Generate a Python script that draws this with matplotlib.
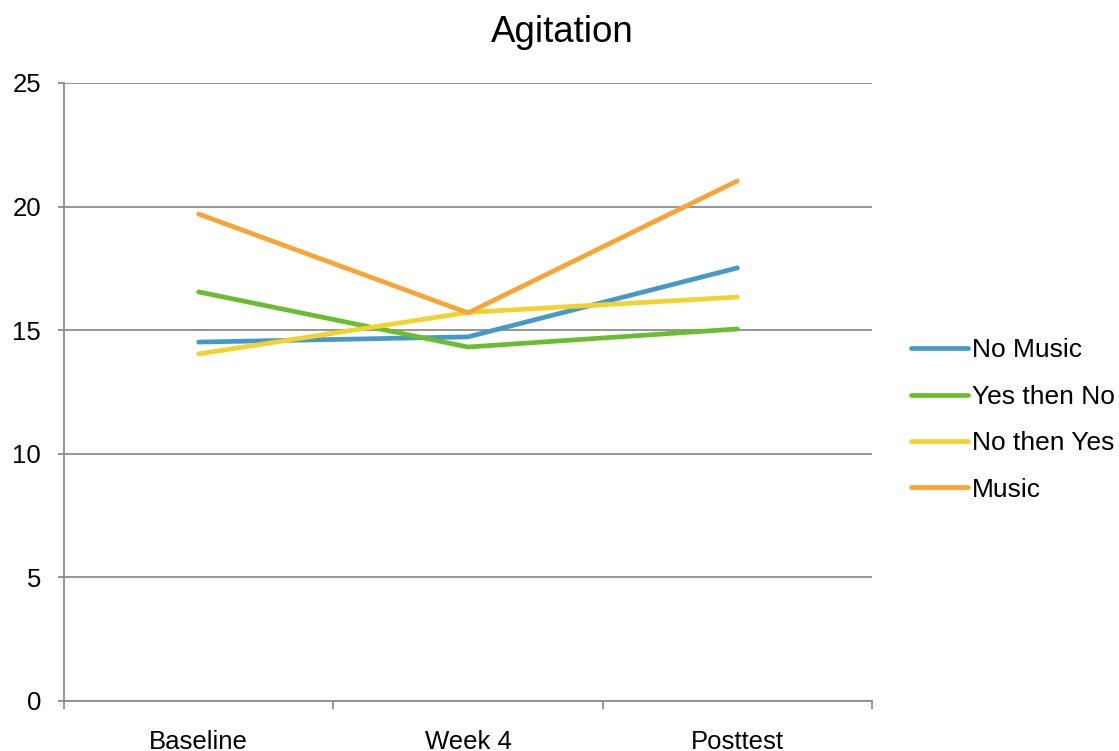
import matplotlib
matplotlib.use("Agg")
import matplotlib.pyplot as plt
from matplotlib.ticker import FixedLocator

plt.rcParams['font.family'] = ['Liberation Sans', 'DejaVu Sans']

categories = ["Baseline", "Week 4", "Posttest"]
series_names = ["No Music", "Yes then No", "No then Yes", "Music"]
no_music = [14.52, 14.73, 17.52]
yes_then_no = [16.55, 14.32, 15.05]
no_then_yes = [14.04, 15.72, 16.34]
music = [19.70, 15.70, 21.04]
colors = ["#4599C9", "#6ABD2E", "#F2D22E", "#F9A435"]
y_ticks = [0, 5, 10, 15, 20, 25]

fig = plt.figure(figsize=(11.19, 7.51), dpi=100)
ax = fig.add_axes([64 / 1119, 50 / 751, 808 / 1119, 618 / 751])

x = list(range(len(categories)))
for vals, name, c in zip([no_music, yes_then_no, no_then_yes, music], series_names, colors):
    ax.plot(x, vals, color=c, lw=3.4, label=name, solid_capstyle='round',
            solid_joinstyle='round', zorder=3)

ax.set_xlim(-0.5, len(categories) - 0.5)
ax.set_ylim(0, 25)
ax.set_yticks(y_ticks)
ax.yaxis.grid(True, color="#8C8C8C", lw=1.3, zorder=1)
ax.set_axisbelow(True)

ax.set_xticks(x)
ax.set_xticklabels(categories)
ax.xaxis.set_minor_locator(FixedLocator([i - 0.5 for i in range(len(categories) + 1)]))
ax.tick_params(axis='x', which='major', length=0, pad=21, labelsize=18.5)
ax.tick_params(axis='x', which='minor', length=6, width=1.3, color="#8C8C8C", direction='out')
ax.tick_params(axis='y', which='major', length=4.5, width=1.3, color="#8C8C8C",
               pad=12, labelsize=18.5)

for s in ["top", "right"]:
    ax.spines[s].set_visible(False)
for s in ["left", "bottom"]:
    ax.spines[s].set_color("#8C8C8C")
    ax.spines[s].set_linewidth(1.3)

fig.text(562 / 1119, 1 - 32 / 751, "Agitation", fontsize=26.5, ha='center', va='center')

leg = ax.legend(loc='center left', bbox_to_anchor=(911 / 1119, 1 - 420 / 751),
                bbox_transform=fig.transFigure, frameon=False, fontsize=19,
                handlelength=2.15, handletextpad=0.15, labelspacing=0.85,
                borderaxespad=0, borderpad=0)

fig.savefig("out.png", dpi=100)
